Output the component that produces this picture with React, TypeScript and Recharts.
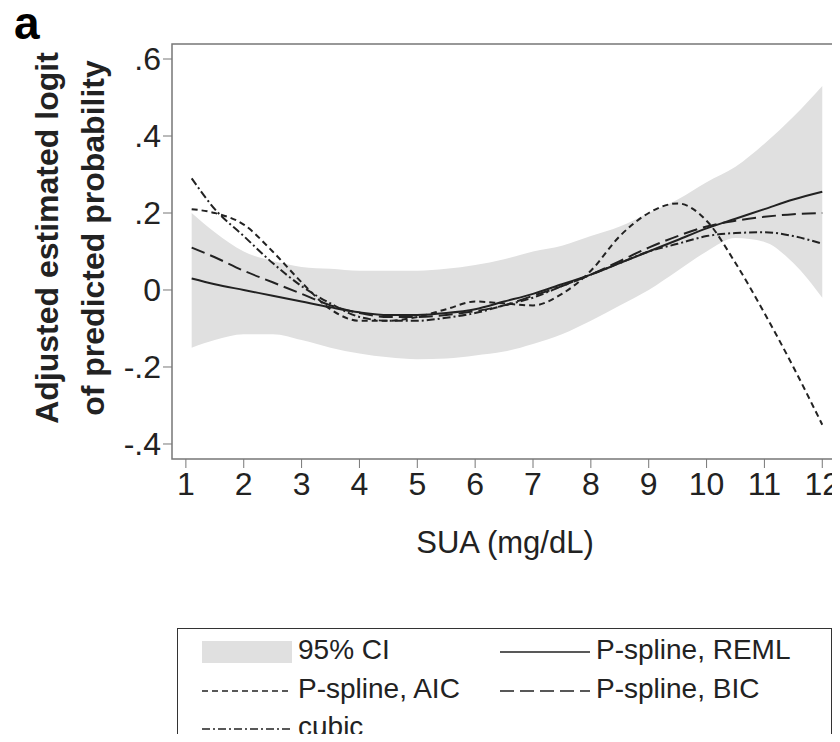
import React from 'react';
import { Area, ComposedChart, Line, ReferenceArea, XAxis, YAxis } from 'recharts';

const sua = [1.1, 1.5, 2, 2.5, 3, 3.5, 4, 4.5, 5, 5.5, 6, 6.5, 7, 7.5, 8, 8.5, 9, 9.5, 10, 10.5, 11, 11.5, 12];
const ciLow = [-0.15, -0.13, -0.115, -0.115, -0.13, -0.15, -0.165, -0.175, -0.18, -0.178, -0.17, -0.16, -0.14, -0.115, -0.08, -0.04, 0.0, 0.05, 0.1, 0.135, 0.125, 0.07, -0.02];
const ciHigh = [0.2, 0.15, 0.1, 0.075, 0.06, 0.055, 0.05, 0.05, 0.05, 0.055, 0.065, 0.08, 0.1, 0.115, 0.14, 0.165, 0.2, 0.235, 0.28, 0.32, 0.38, 0.45, 0.53];
const reml = [0.03, 0.015, 0.0, -0.015, -0.03, -0.045, -0.058, -0.065, -0.065, -0.06, -0.05, -0.03, -0.01, 0.015, 0.04, 0.07, 0.1, 0.13, 0.16, 0.185, 0.21, 0.235, 0.255];
const bic = [0.11, 0.085, 0.05, 0.02, -0.01, -0.04, -0.06, -0.07, -0.07, -0.065, -0.055, -0.04, -0.015, 0.01, 0.04, 0.075, 0.11, 0.14, 0.165, 0.18, 0.19, 0.197, 0.2];
const aic = [0.21, 0.2, 0.17, 0.1, 0.02, -0.05, -0.08, -0.08, -0.07, -0.05, -0.03, -0.035, -0.04, -0.01, 0.05, 0.14, 0.2, 0.225, 0.18, 0.07, -0.06, -0.2, -0.35];
const cubic = [0.29, 0.21, 0.14, 0.07, 0.01, -0.035, -0.07, -0.08, -0.08, -0.072, -0.06, -0.04, -0.02, 0.01, 0.04, 0.07, 0.1, 0.12, 0.14, 0.148, 0.15, 0.14, 0.12];
const yTicks = [-0.4, -0.2, 0, 0.2, 0.4, 0.6];
const xTicks = [1, 2, 3, 4, 5, 6, 7, 8, 9, 10, 11, 12];

const data = sua.map((x, i) => ({
  x,
  ci: [ciLow[i], ciHigh[i]],
  reml: reml[i],
  bic: bic[i],
  aic: aic[i],
  cubic: cubic[i],
}));

const fmtY = (v: number) => (v === 0 ? '0' : String(v).replace('0.', '.'));
const font = '"Liberation Sans", Arial, sans-serif';
const tickStyle = { fontSize: 32, fill: '#222', fontFamily: font };

const Sample = ({ dash, band }: { dash?: string; band?: boolean }) => (
  <svg width={90} height={24} style={{ verticalAlign: 'middle', marginRight: 6 }}>
    {band ? <rect x={0} y={1} width={90} height={22} fill="#e0e0e0" /> :
      <line x1={0} y1={12} x2={90} y2={12} stroke="#222" strokeWidth={1.5} strokeDasharray={dash} />}
  </svg>
);

export default function App() {
  return (
    <div style={{ position: 'relative', width: 840, height: 742, margin: -8, background: '#fff', fontFamily: font, overflow: 'hidden' }}>
      <div style={{ position: 'absolute', left: 14, top: -4, fontSize: 46, fontWeight: 'bold', lineHeight: '54px' }}>a</div>
      <div style={{ position: 'absolute', left: 70, top: 238, width: 0, height: 0 }}>
        <div style={{ position: 'absolute', transform: 'translate(-50%,-50%) rotate(-90deg)', whiteSpace: 'nowrap', textAlign: 'center', fontSize: 32, fontWeight: 'bold', lineHeight: '46px', color: '#222' }}>
          Adjusted estimated logit<br />of predicted probability
        </div>
      </div>
      <ComposedChart width={840} height={530} data={data} margin={{ top: 44, right: 5, bottom: 0, left: 100 }}>
        <XAxis dataKey="x" type="number" domain={[0.76, 12.22]} ticks={xTicks} tick={tickStyle} tickSize={9} stroke="#777" axisLine={false} tickMargin={4} height={71} />
        <YAxis type="number" domain={[-0.439, 0.639]} ticks={yTicks} tickFormatter={fmtY} tick={tickStyle} tickSize={9} stroke="#777" axisLine={false} width={72} />
        <ReferenceArea x1={0.76} x2={12.22} y1={-0.439} y2={0.639} fill="none" stroke="#777" strokeWidth={1.5} ifOverflow="visible" />
        <Area dataKey="ci" type="monotone" fill="#e0e0e0" fillOpacity={1} stroke="none" isAnimationActive={false} />
        <Line dataKey="reml" type="monotone" stroke="#222" strokeWidth={2} dot={false} isAnimationActive={false} />
        <Line dataKey="bic" type="monotone" stroke="#222" strokeWidth={2} strokeDasharray="14 6" dot={false} isAnimationActive={false} />
        <Line dataKey="aic" type="monotone" stroke="#222" strokeWidth={2} strokeDasharray="6 4" dot={false} isAnimationActive={false} />
        <Line dataKey="cubic" type="monotone" stroke="#222" strokeWidth={2} strokeDasharray="8 3 2 3" dot={false} isAnimationActive={false} />
      </ComposedChart>
      <div style={{ position: 'absolute', left: 0, width: 840, top: 525, textAlign: 'center', paddingLeft: 170, boxSizing: 'border-box', fontSize: 31, color: '#222' }}>
        SUA (mg/dL)
      </div>
      <div style={{ position: 'absolute', left: 177, top: 628, width: 655, height: 130, border: '1.5px solid #333', boxSizing: 'border-box', fontSize: 28, color: '#222', lineHeight: '30px' }}>
        <div style={{ position: 'absolute', left: 24, top: 6 }}><Sample band />95% CI</div>
        <div style={{ position: 'absolute', left: 322, top: 6 }}><Sample />P-spline, REML</div>
        <div style={{ position: 'absolute', left: 24, top: 45 }}><Sample dash="6 4" />P-spline, AIC</div>
        <div style={{ position: 'absolute', left: 322, top: 45 }}><Sample dash="14 6" />P-spline, BIC</div>
        <div style={{ position: 'absolute', left: 24, top: 83 }}><Sample dash="8 3 2 3" />cubic</div>
      </div>
    </div>
  );
}
